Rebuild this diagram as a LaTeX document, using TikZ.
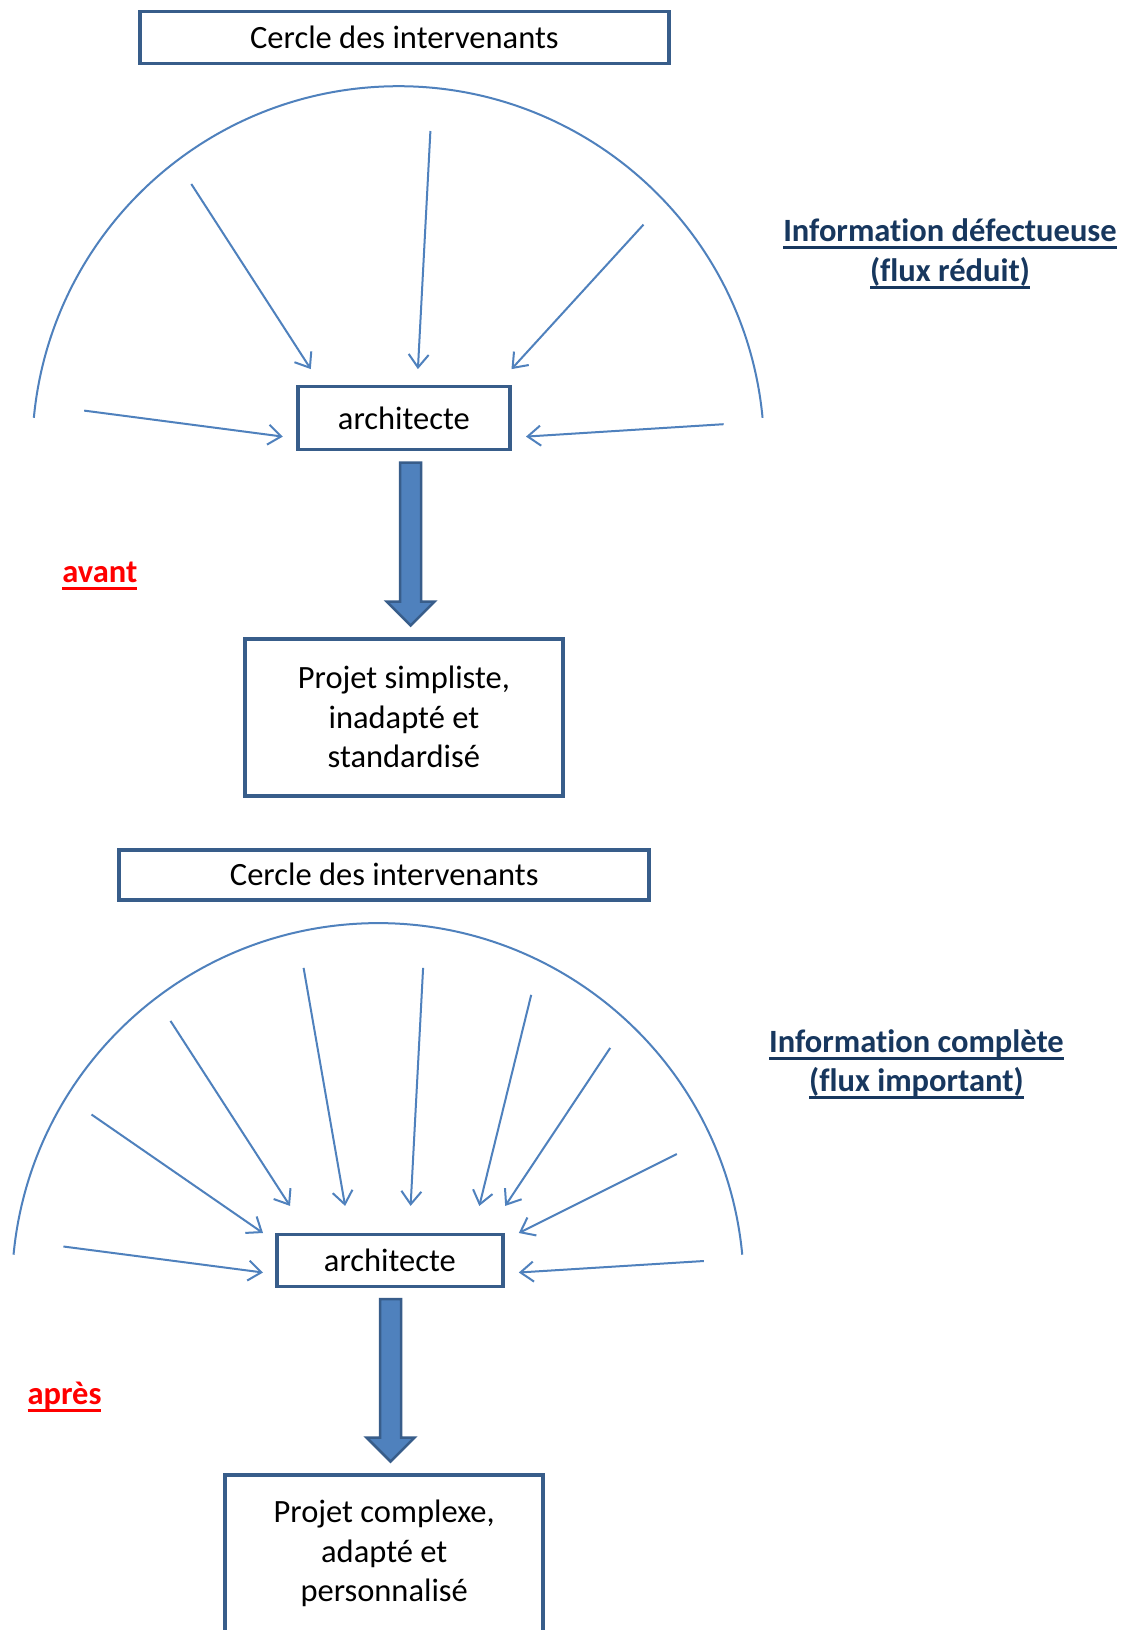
\documentclass[tikz,border=0pt]{standalone}
\usepackage{fontspec}
\setmainfont{Carlito}[Ligatures=NoCommon, RawFeature={-liga;-clig;-calt;-dlig}]
\usetikzlibrary{arrows.meta,calc}
\definecolor{boxline}{HTML}{385D8A}
\definecolor{flow}{HTML}{4F81BD}
\definecolor{navy}{HTML}{17375E}
\definecolor{alert}{HTML}{FF0000}
% underline drawn as a thick rule below the baseline
\newcommand\underscored[1]{\setbox0\hbox{#1}\rlap{\rule[-7.5pt]{\wd0}{3pt}}\box0}
\begin{document}
\begin{tikzpicture}[x=1pt,y=-1pt,
  every node/.style={font=\fontsize{32.5}{39.5}\selectfont},
  box/.style={draw=boxline, line width=3.5pt, fill=white, rectangle, inner sep=0pt, align=center},
  feed/.style={draw=flow, line width=2pt, -{Straight Barb[length=13pt,width=20pt]}},
  rim/.style={draw=flow, line width=2pt},
  bigflow/.style={fill=flow, draw=boxline, line width=2.5pt, line join=miter},
  note/.style={text=navy, font=\fontsize{32.5}{39.5}\selectfont\bfseries, anchor=base, inner sep=0pt},
  stage/.style={text=alert, font=\fontsize{32.5}{39.5}\selectfont\bfseries, anchor=base, inner sep=0pt}]

\useasboundingbox (0,0) rectangle (1128,1630);
\fill[white] (0,0) rectangle (1128,1630);
\clip (0,0) rectangle (1128,1630);

% ---------- avant ----------
\coordinate (rimA) at (398.2,452.2);
\draw[rim] ($(rimA)+(-5.4:366)$) arc[start angle=-5.4, end angle=-174.6, radius=366];

\node[box, minimum width=529, minimum height=52] (cercleA) at (404.4,37.5) {Cercle des intervenants};
\node[box, minimum width=212, minimum height=63] (archA) at (403.9,418) {architecte};
\node[box, minimum width=318, minimum height=157] (projA) at (403.9,717.3)
  {Projet simpliste,\\inadapté et\\standardisé};

\foreach \i/\sx/\sy/\ex/\ey in {
  1/191.3/184.0/310.8/369.1,
  2/430.4/131.0/417.9/369.1,
  3/643.5/224.6/511.5/369.1,
  4/84.2/410.6/282.8/436.6,
  5/723.6/424.2/526.0/436.6}{
  \coordinate (fA\i) at (\sx,\sy);
  \coordinate (gA\i) at (\ex,\ey);
  \draw[feed] (fA\i) -- (gA\i);
}

\coordinate (topA) at (410.6,462.6);
\coordinate (tipA) at (410.6,625.5);
\draw[bigflow] ($(topA)+(-10.5,0)$) -- ($(topA)+(10.5,0)$) -- ($(tipA)+(10.5,-24)$)
  -- ($(tipA)+(24,-24)$) -- (tipA) -- ($(tipA)+(-24,-24)$) -- ($(tipA)+(-10.5,-24)$) -- cycle;

\node[note] (infoA1) at (950,241.5) {\underscored{Information défectueuse}};
\node[note] (infoA2) at (950,281) {\underscored{(flux réduit)}};
\node[stage] (avant) at (99.8,582) {\underscored{avant}};

% ---------- après ----------
\coordinate (rimB) at (377.9,1289.1);
\draw[rim] ($(rimB)+(-5.4:366)$) arc[start angle=-5.4, end angle=-174.6, radius=366];

\node[box, minimum width=530, minimum height=50] (cercleB) at (384.2,874.8) {Cercle des intervenants};
\node[box, minimum width=226, minimum height=52] (archB) at (389.9,1260.5) {architecte};
\node[box, minimum width=318, minimum height=157] (projB) at (384.2,1553.5)
  {Projet complexe,\\adapté et\\personnalisé};

\foreach \i/\sx/\sy/\ex/\ey in {
  1/63.4/1246.5/263.0/1272.5,
  2/91.5/1114.5/263.0/1233.0,
  3/170.5/1020.9/290.0/1205.9,
  4/303.6/967.9/345.1/1205.9,
  5/423.1/967.9/410.6/1205.9,
  6/531.2/994.9/479.3/1205.9,
  7/610.2/1047.9/505.2/1205.9,
  8/676.8/1154.0/518.8/1233.0,
  9/703.8/1261.0/518.8/1272.5}{
  \coordinate (fB\i) at (\sx,\sy);
  \coordinate (gB\i) at (\ex,\ey);
  \draw[feed] (fB\i) -- (gB\i);
}

\coordinate (topB) at (390.5,1299);
\coordinate (tipB) at (390.5,1461.5);
\draw[bigflow] ($(topB)+(-10.5,0)$) -- ($(topB)+(10.5,0)$) -- ($(tipB)+(10.5,-24)$)
  -- ($(tipB)+(24,-24)$) -- (tipB) -- ($(tipB)+(-24,-24)$) -- ($(tipB)+(-10.5,-24)$) -- cycle;

\node[note] (infoB1) at (916.4,1052) {\underscored{Information complète}};
\node[note] (infoB2) at (916.4,1091.5) {\underscored{(flux important)}};
\node[stage] (apres) at (64.5,1404.5) {\underscored{après}};
\end{tikzpicture}
\end{document}
